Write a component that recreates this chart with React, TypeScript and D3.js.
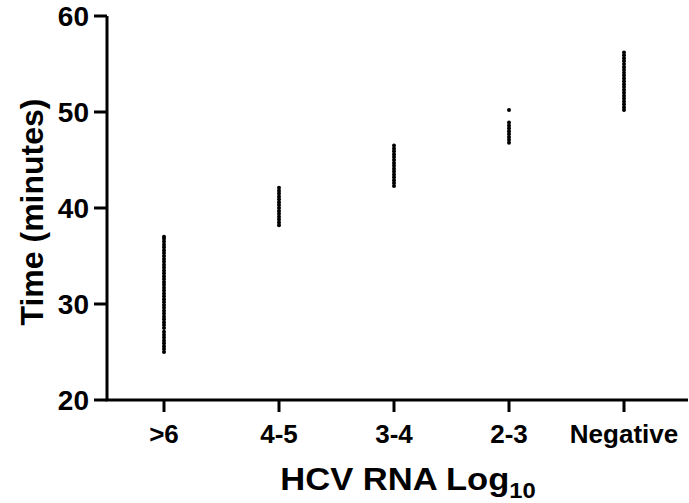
import React from 'react'
import * as d3 from 'd3'

const categories = ['>6', '4-5', '3-4', '2-3', 'Negative']
const timesGt6 = [25.0, 25.3, 25.6, 25.9, 26.2, 26.5, 26.8, 27.1, 27.5, 27.8, 28.1, 28.4, 28.7, 29.0, 29.3, 29.6, 29.9, 30.2, 30.5, 30.8, 31.1, 31.4, 31.7, 32.0, 32.3, 32.6, 32.9, 33.2, 33.5, 33.8, 34.1, 34.4, 34.7, 35.0, 35.3, 35.6, 35.9, 36.2, 36.5, 36.8, 37.0]
const times45 = [38.2, 38.5, 38.8, 39.1, 39.4, 39.7, 40.0, 40.3, 40.6, 40.9, 41.2, 41.5, 41.8, 42.1]
const times34 = [42.3, 42.6, 42.9, 43.2, 43.5, 43.8, 44.1, 44.4, 44.7, 45.0, 45.3, 45.6, 45.9, 46.2, 46.5]
const times23 = [46.8, 47.1, 47.4, 47.7, 48.0, 48.3, 48.6, 48.9, 50.2]
const timesNeg = [50.2, 50.5, 50.8, 51.1, 51.4, 51.7, 52.0, 52.3, 52.6, 52.9, 53.2, 53.5, 53.8, 54.1, 54.4, 54.7, 55.0, 55.3, 55.6, 55.9, 56.2]
const yTicks = [20, 30, 40, 50, 60]

const groups = [timesGt6, times45, times34, times23, timesNeg]

const width = 689
const height = 503
const axisLeft = 107
const axisRight = 688
const font = '"Liberation Sans", Arial, sans-serif'

const App = () => {
  const x = d3.scalePoint<string>().domain(categories).range([164, 624])
  const y = d3.scaleLinear().domain([20, 60]).range([400, 16])

  const points = categories.flatMap((c, i) => groups[i].map(v => ({ c, v })))

  return (
    <div style={{ position: 'fixed', left: 0, top: 0 }}>
      <svg width={width} height={height} viewBox={`0 0 ${width} ${height}`} style={{ display: 'block', background: '#fff' }}>
        {/* axes */}
        <g stroke="#000" strokeWidth={3} fill="none">
          <path d={`M${axisLeft},${y(60)}V${y(20)}H${axisRight}`} />
          {yTicks.map(t => (
            <line key={t} x1={axisLeft - 13} x2={axisLeft} y1={y(t)} y2={y(t)} />
          ))}
          {categories.map(c => (
            <line key={c} x1={x(c)!} x2={x(c)!} y1={y(20)} y2={y(20) + 12} />
          ))}
        </g>

        {/* y tick labels */}
        <g fontFamily={font} fontWeight="bold" fontSize={28} textAnchor="end">
          {yTicks.map(t => (
            <text key={t} x={axisLeft - 18} y={y(t)} dy="0.36em">{t}</text>
          ))}
        </g>

        {/* x tick labels */}
        <g fontFamily={font} fontWeight="bold" fontSize={26} textAnchor="middle">
          {categories.map(c => (
            <text key={c} x={x(c)!} y={443}>{c}</text>
          ))}
        </g>

        {/* dots */}
        <g fill="#000">
          {points.map((d, i) => (
            <circle key={i} cx={x(d.c)!} cy={y(d.v)} r={2} />
          ))}
        </g>

        {/* axis titles */}
        <text transform="translate(43,212) rotate(-90)" textAnchor="middle"
          fontFamily={font} fontWeight="bold" fontSize={32}>Time (minutes)</text>
        <text transform="translate(408,490) scale(1.08,1)" textAnchor="middle" fontFamily={font} fontWeight="bold" fontSize={32}>
          HCV RNA Log<tspan fontSize={22} dy={8}>10</tspan>
        </text>
      </svg>
    </div>
  )
}

export default App
